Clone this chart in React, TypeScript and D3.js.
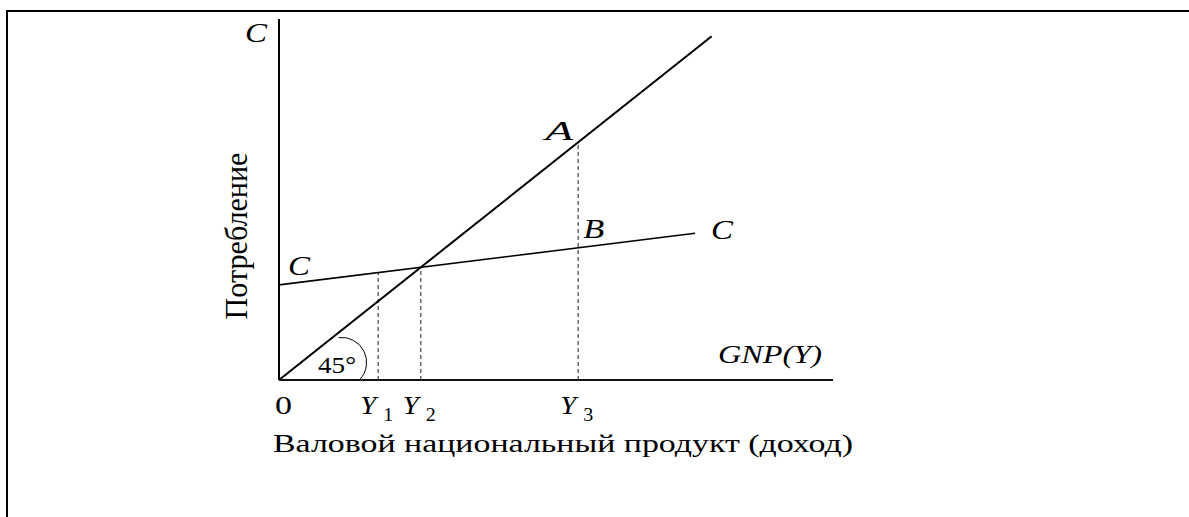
import React from "react";
import * as d3 from "d3";

// Keynesian cross: 45° line vs consumption function C = a + bY
const incomeMarks = ["1", "2", "3"];
const incomeValues = [17.9, 25.6, 54.0];
const diagonalEnd = 78.1;
const consumptionEnd = 75.1;
const consumptionIntercept = 21.6;
const mpc = 0.156;
const xMax = 100;
const yMax = 82.0;

const W = 1189, H = 517;
const serif = "'Liberation Serif', 'Times New Roman', serif";

const consumption = (y: number) => consumptionIntercept + mpc * y;

const txt = (size: number, italic = false): React.CSSProperties => ({
  fontFamily: serif,
  fontSize: size + "px",
  fontStyle: italic ? "italic" : "normal",
});

export default function App() {
  const x = d3.scaleLinear().domain([0, xMax]).range([279, 833]);
  const y = d3.scaleLinear().domain([0, yMax]).range([380, 19]);

  const line = d3.line<[number, number]>()
    .x(d => x(d[0]))
    .y(d => y(d[1]));

  const diagonal = line([[0, 0], [diagonalEnd, diagonalEnd]]);
  const cLine = line([[0, consumption(0)], [consumptionEnd, consumption(consumptionEnd)]]);

  // small arc marking the 45 degree angle
  const arcPath = d3.path();
  arcPath.arc(x(11.3), y(4.0), 25, -1.69, 0.75);

  const y3 = incomeValues[2];
  const pA = [x(y3), y(y3)];
  const pB = [x(y3), y(consumption(y3))];
  const cEnd = [x(consumptionEnd), y(consumption(consumptionEnd))];

  return (
    <svg width={W} height={H} style={{ position: "absolute", left: 0, top: 0, display: "block", background: "#fff" }}>
      {/* frame */}
      <rect x={7} y={11} width={1300} height={700} fill="none" stroke="#000" strokeWidth={2} />

      {/* axes */}
      <line x1={x(0)} x2={x(0)} y1={y(0)} y2={y(yMax)} stroke="#000" strokeWidth={2} />
      <line x1={x(0)} x2={x(xMax)} y1={y(0)} y2={y(0)} stroke="#111" strokeWidth={2} />

      {/* dashed guides */}
      {incomeValues.map((v, i) => (
        <line key={"d" + i} x1={x(v)} x2={x(v)} y1={y(0)} y2={y(Math.max(v, consumption(v)))}
          stroke="#444" strokeWidth={1.2} strokeDasharray="4,3" />
      ))}

      <path d={diagonal || ""} fill="none" stroke="#000" strokeWidth={2} />
      <path d={cLine || ""} fill="none" stroke="#000" strokeWidth={1.6} />
      <path d={arcPath.toString()} fill="none" stroke="#000" strokeWidth={1} />

      <g fill="#000">
        <text x={245} y={42} style={txt(27, true)} textLength={22} lengthAdjust="spacingAndGlyphs">C</text>
        <text x={x(0) + 9} y={y(consumption(0)) - 10} style={txt(27, true)} textLength={22} lengthAdjust="spacingAndGlyphs">C</text>
        <text x={cEnd[0] + 16} y={cEnd[1] + 6} style={txt(27, true)} textLength={22} lengthAdjust="spacingAndGlyphs">C</text>
        <text x={pA[0] - 33} y={pA[1] - 2} style={txt(27, true)} textLength={28} lengthAdjust="spacingAndGlyphs">A</text>
        <text x={pB[0] + 5} y={pB[1] - 10} style={txt(27, true)} textLength={21} lengthAdjust="spacingAndGlyphs">B</text>
        <text x={718} y={363} style={txt(26, true)} textLength={104} lengthAdjust="spacingAndGlyphs">GNP(Y)</text>
        <text x={318} y={373} style={txt(23)} textLength={38} lengthAdjust="spacingAndGlyphs">45°</text>
        <text x={x(0) - 4} y={414} style={txt(25)} textLength={17} lengthAdjust="spacingAndGlyphs">0</text>

        {incomeValues.map((v, i) => (
          <g key={"t" + i}>
            <text x={x(v) - 18} y={414} style={txt(26, true)} textLength={16} lengthAdjust="spacingAndGlyphs">Y</text>
            <text x={x(v) + 5} y={421} style={txt(18)} textLength={10} lengthAdjust="spacingAndGlyphs">{incomeMarks[i]}</text>
          </g>
        ))}

        <text x={273} y={452} style={txt(25)} textLength={580} lengthAdjust="spacingAndGlyphs">Валовой национальный продукт (доход)</text>
        <text transform="translate(247,236) rotate(-90)" textAnchor="middle" style={txt(31)}
          textLength={167} lengthAdjust="spacingAndGlyphs">Потребление</text>
      </g>
    </svg>
  );
}
